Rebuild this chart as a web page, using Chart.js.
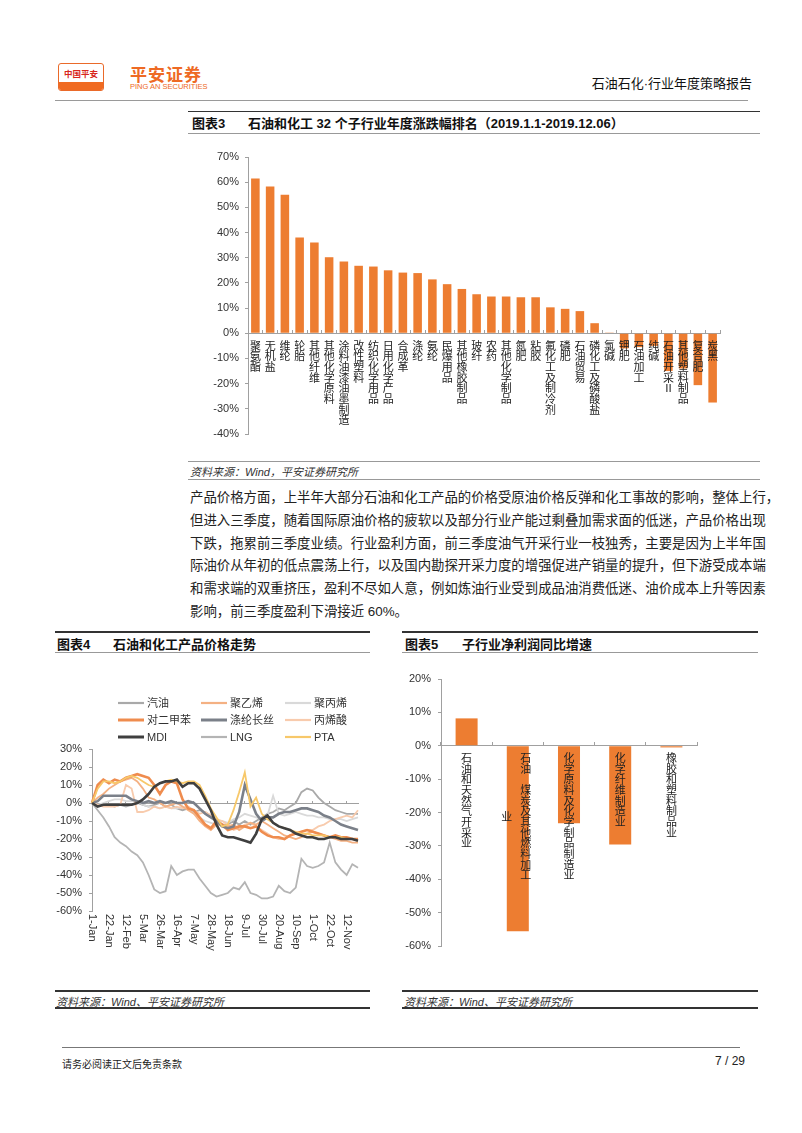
<!DOCTYPE html>
<html>
<head>
<meta charset="utf-8">
<script src="https://cdn.jsdelivr.net/npm/chart.js@4.4.1/dist/chart.umd.min.js"></script>
<style>
body { margin: 0; background: #fff; }
#page { position: relative; width: 802px; height: 1133px; overflow: hidden; font-family: 'Liberation Sans', 'Noto Sans CJK SC', sans-serif; color: #222; }
.abs { position: absolute; }
.hline { position: absolute; height: 0; }
.ttl { position: absolute; font-size: 13px; font-weight: bold; color: #111; white-space: nowrap; }
.src { position: absolute; font-size: 11px; font-style: italic; color: #333; white-space: nowrap; }
.para div { height: 22.8px; line-height: 22.8px; text-align: justify; text-align-last: justify; white-space: nowrap; }
canvas { position: absolute; }
</style>
</head>
<body>
<div id="page">
  <!-- header -->
  <div class="abs" style="left:58px;top:63px;width:44px;height:26px;border:1px solid #ea6a2a;border-radius:3px;overflow:hidden;">
    <div style="position:absolute;left:0;right:0;top:3px;text-align:center;font-size:8.5px;font-weight:bold;color:#d8261c;">中国平安</div>
    <div style="position:absolute;left:0;right:0;bottom:0;height:8px;background:#f06b22;"></div>
  </div>
  <div class="abs" style="left:130px;top:61px;font-size:17px;font-weight:bold;color:#ee6a24;letter-spacing:1px;">平安证券</div>
  <div class="abs" style="left:130px;top:82px;font-size:7.5px;color:#ee6a24;">PING AN SECURITIES</div>
  <div class="abs" style="right:50px;top:73px;font-size:13px;color:#111;">石油石化·行业年度策略报告</div>
  <div class="hline" style="left:55px;width:693px;top:100px;border-top:1.5px solid #9a9a9a;"></div>

  <!-- chart 3 title -->
  <div class="hline" style="left:188px;width:572px;top:111px;border-top:1.5px solid #333;"></div>
  <div class="ttl" style="left:192px;top:113px;">图表3</div>
  <div class="ttl" style="left:248px;top:113px;">石油和化工 32 个子行业年度涨跌幅排名（2019.1.1-2019.12.06）</div>
  <div class="hline" style="left:188px;width:572px;top:133px;border-top:1px solid #999;"></div>
  <canvas id="chart3" width="575" height="310" style="left:188px;top:140px;"></canvas>
  <div class="hline" style="left:188px;width:572px;top:461px;border-top:1px solid #999;"></div>
  <div class="src" style="left:190px;top:463px;">资料来源：Wind，平安证券研究所</div>
  <div class="hline" style="left:188px;width:572px;top:479px;border-top:1px solid #999;"></div>

  <div class="abs para" style="left:190px;top:487px;width:570px;font-size:13.4px;color:#222;">
    <div>产品价格方面，上半年大部分石油和化工产品的价格受原油价格反弹和化工事故的影响，整体上行，</div>
    <div>但进入三季度，随着国际原油价格的疲软以及部分行业产能过剩叠加需求面的低迷，产品价格出现</div>
    <div>下跌，拖累前三季度业绩。行业盈利方面，前三季度油气开采行业一枝独秀，主要是因为上半年国</div>
    <div>际油价从年初的低点震荡上行，以及国内勘探开采力度的增强促进产销量的提升，但下游受成本端</div>
    <div>和需求端的双重挤压，盈利不尽如人意，例如炼油行业受到成品油消费低迷、油价成本上升等因素</div>
    <div style="text-align-last:left;">影响，前三季度盈利下滑接近 60%。</div>
  </div>

  <!-- chart 4 -->
  <div class="hline" style="left:55px;width:315px;top:631px;border-top:2px solid #333;"></div>
  <div class="ttl" style="left:57px;top:634px;">图表4</div>
  <div class="ttl" style="left:113px;top:634px;">石油和化工产品价格走势</div>
  <div class="hline" style="left:55px;width:315px;top:652px;border-top:1px solid #999;"></div>
  <canvas id="chart4" width="315" height="272" style="left:55px;top:690px;"></canvas>
  <div class="hline" style="left:55px;width:315px;top:990px;border-top:2px solid #333;"></div>
  <div class="src" style="left:56px;top:993px;">资料来源：Wind、平安证券研究所</div>
  <div class="hline" style="left:55px;width:315px;top:1007px;border-top:2px solid #333;"></div>

  <!-- chart 5 -->
  <div class="hline" style="left:402px;width:356px;top:631px;border-top:2px solid #333;"></div>
  <div class="ttl" style="left:405px;top:634px;">图表5</div>
  <div class="ttl" style="left:462px;top:634px;">子行业净利润同比增速</div>
  <div class="hline" style="left:402px;width:356px;top:652px;border-top:1px solid #999;"></div>
  <canvas id="chart5" width="360" height="325" style="left:400px;top:660px;"></canvas>
  <div class="hline" style="left:402px;width:356px;top:990px;border-top:2px solid #333;"></div>
  <div class="src" style="left:404px;top:993px;">资料来源：Wind、平安证券研究所</div>
  <div class="hline" style="left:402px;width:356px;top:1007px;border-top:2px solid #333;"></div>

  <!-- footer -->
  <div class="hline" style="left:62px;width:678px;top:1047px;border-top:1px solid #777;"></div>
  <div class="abs" style="left:62px;top:1056px;font-size:10px;color:#222;">请务必阅读正文后免责条款</div>
  <div class="abs" style="right:57px;top:1054px;font-size:12px;color:#222;">7 / 29</div>
</div>

<script>
"use strict";

var FONT = "'Liberation Sans', 'Noto Sans CJK SC', sans-serif";
var AXIS = '#a0a0a0';
var LH = 11 * 0.97;

// chart 3 data
var subNames = ['聚氨酯', '无机盐', '维纶', '轮胎', '其他纤维', '其他化学原料', '涂料油漆油墨制造', '改性塑料',
    '纺织化学用品', '日用化学产品', '合成革', '涤纶', '氨纶', '民爆用品', '其他橡胶制品', '玻纤',
    '农药', '其他化学制品', '氮肥', '粘胶', '氟化工及制冷剂', '磷肥', '石油贸易', '磷化工及磷酸盐',
    '氯碱', '钾肥', '石油加工', '纯碱', '石油开采Ⅱ', '其他塑料制品', '复合肥', '炭黑'];
var subChange = [61.5, 58.3, 55.0, 38.0, 36.0, 30.2, 28.5, 26.8,
    26.5, 25.0, 24.1, 23.9, 21.4, 19.5, 17.6, 15.5,
    14.6, 14.6, 14.3, 14.3, 10.3, 9.7, 8.8, 4.0,
    0.3, -6.0, -5.5, -5.0, -15.0, -14.0, -20.6, -27.5];
var subTicks = [-40, -30, -20, -10, 0, 10, 20, 30, 40, 50, 60, 70];

// chart 4 data
var weekLabels = ['1-Jan', '8-Jan', '15-Jan', '22-Jan', '29-Jan', '5-Feb', '12-Feb', '19-Feb', '26-Feb', '5-Mar',
    '12-Mar', '19-Mar', '26-Mar', '2-Apr', '9-Apr', '16-Apr', '23-Apr', '30-Apr', '7-May', '14-May',
    '21-May', '28-May', '4-Jun', '11-Jun', '18-Jun', '25-Jun', '2-Jul', '9-Jul', '16-Jul', '23-Jul',
    '30-Jul', '6-Aug', '13-Aug', '20-Aug', '27-Aug', '3-Sep', '10-Sep', '17-Sep', '24-Sep', '1-Oct',
    '8-Oct', '15-Oct', '22-Oct', '29-Oct', '5-Nov', '12-Nov', '19-Nov', '26-Nov'];
var gasoline = [0, -1, -1, -1, -2, -1, -2, -1, 0, -1, -2, -1, 0, -2, -1, -3, -4, -3, -5, -4,
    -5, -7, -10, -12, -12, -10, -12, -10, -12, -10, -8, -6, -5, -3, -4, -2, 0, 6, 8, 7,
    3, 0, -2, -4, -5, -6, -6, -6];
var polyethylene = [0, 3, 5, 8, 10, 12, 13, 14, 12, 8, 3, 2, 0, -2, -1, 0, -2, -4, -6, -10,
    -13, -15, -12, -12, -13, -12, -15, -13, -11, -12, -10, -12, -14, -16, -18, -19, -20, -19, -17, -16,
    -17, -18, -19, -20, -21, -21, -22, -22];
var polypropylene = [0, -1, 0, 1, 2, 2, 1, 1, 1, -1, -2, -2, -3, -2, -3, -3, -2, -3, -6, -8,
    -10, -11, -12, -10, -11, -9, -8, -6, -7, -8, -9, -7, 4, -6, -7, -6, -5, -6, -7, -7,
    -8, -8, -9, -9, -9, -10, -9, -8];
var paraxylene = [0, 10, 13, 11, 13, 12, 14, 15, 16, 15, 14, 10, 5, 10, 12, 11, 2, -3, -4, -8,
    -12, -14, -10, -12, -15, -14, -13, -13, -14, -13, -16, -18, -19, -19, -20, -18, -17, -16, -15, -16,
    -17, -18, -19, -18, -19, -19, -20, -20];
var polyester = [0, 1, 4, 4, 4, 4, 4, 2, 1, 0, 1, 0, 1, 0, 1, 0, 0, 1, 0, -3,
    -6, -8, -10, -13, -14, -13, -5, 10, 2, -6, -10, -8, -8, -6, -5, -5, -4, -3, -3, -4,
    -5, -7, -8, -10, -12, -13, -14, -15];
var acrylicAcid = [0, -1, -2, -2, -2, -1, 10, 8, -5, -5, -4, -2, -3, -2, -3, -2, -3, -2, -4, -6,
    -5, -7, -9, -10, -12, -15, -14, -12, -11, -13, -15, -17, -19, -20, -20, -18, -17, -16, -15, -15,
    -13, -12, -10, -9, -8, -7, -8, -4];
var mdi = [0, -2, -1, -1, -1, -1, -1, -1, 0, 2, 5, 9, 11, 12, 12, 13, 9, 11, 11, 8,
    2, -4, -12, -18, -19, -19, -20, -21, -22, -17, -9, -7, -11, -13, -14, -15, -17, -18, -19, -19,
    -20, -20, -19, -19, -20, -20, -20, -21];
var lng = [0, -4, -8, -13, -19, -22, -24, -27, -29, -33, -40, -48, -50, -49, -35, -40, -38, -37, -37, -42,
    -46, -50, -52, -51, -50, -47, -48, -44, -50, -51, -53, -53, -52, -46, -49, -50, -47, -31, -35, -36,
    -35, -33, -22, -33, -37, -40, -34, -36];
var pta = [0, 8, 12, 12, 11, 12, 14, 15, 14, 12, 10, 9, 11, 12, 13, 12, 11, 12, 12, 10,
    4, -3, -8, -13, -12, -4, 6, 17, -2, 3, -6, -9, -11, -13, -14, -15, -16, -17, -17, -18,
    -18, -18, -19, -19, -19, -20, -20, -21];
var priceTicks = [-60, -50, -40, -30, -20, -10, 0, 10, 20, 30];

// chart 5 data
var profitCats = ['石油和天然气开采业', '石油、煤炭及其他燃料加工业', '化学原料及化学制品制造业', '化学纤维制造业', '橡胶和塑料制品业'];
var profitGrowth = [8.2, -55.6, -23.2, -29.6, -0.5];
var profitTicks = [-60, -50, -40, -30, -20, -10, 0, 10, 20];

function pct(v) { return v + '%'; }

function fixedTicks(list) {
    return function(scale) {
        scale.ticks = list.map(function(v) { return { value: v }; });
    };
}

function yAxis(list, width, pad) {
    return {
        min: list[0], max: list[list.length - 1],
        afterBuildTicks: fixedTicks(list),
        afterFit: function(s) { s.width = width; },
        ticks: { callback: pct, color: '#333', padding: pad, font: { family: FONT, size: 11 } },
        grid: { display: true, drawOnChartArea: false, tickLength: 3, color: AXIS },
        border: { color: AXIS }
    };
}

// one character per line; labels over 12 characters are drawn by the plugin below
function chars(label) {
    return label.replace('、', ' ').split('');
}

function catAxis() {
    return {
        position: { y: 0 },
        grid: { display: true, drawOnChartArea: false, offset: true, tickLength: -4, color: AXIS },
        border: { color: AXIS },
        ticks: {
            z: 1, autoSkip: false, maxRotation: 0, minRotation: 0, padding: 12,
            color: '#222',
            font: { family: FONT, size: 11, lineHeight: 0.97 },
            callback: function(v) {
                var c = chars(this.getLabelForValue(v));
                return c.length > 12 ? '' : c;
            }
        }
    };
}

// chart 3
var ctx3 = document.getElementById('chart3').getContext('2d');
var chart3 = new Chart(ctx3, {
    type: 'bar',
    data: {
        labels: subNames,
        datasets: [{
            data: subChange,
            backgroundColor: '#ed7d31',
            categoryPercentage: 1,
            barPercentage: 0.58
        }]
    },
    options: {
        responsive: false,
        animation: false,
        layout: { padding: { top: 17, bottom: 16, right: 43, left: 0 } },
        plugins: { legend: { display: false }, tooltip: { enabled: false } },
        scales: {
            y: yAxis(subTicks, 60, 6),
            x: catAxis()
        }
    }
});

// chart 4
var series = [
    { label: '汽油', data: gasoline, color: '#a9a9a9', width: 1.8, order: 7 },
    { label: '聚乙烯', data: polyethylene, color: '#f4b183', width: 1.8, order: 4 },
    { label: '聚丙烯', data: polypropylene, color: '#d9d9d9', width: 1.8, order: 6 },
    { label: '对二甲苯', data: paraxylene, color: '#ef8c4e', width: 2.6, order: 3 },
    { label: '涤纶长丝', data: polyester, color: '#7b8089', width: 2.6, order: 2 },
    { label: '丙烯酸', data: acrylicAcid, color: '#f8cbad', width: 1.8, order: 5 },
    { label: 'MDI', data: mdi, color: '#3f3f3f', width: 2.6, order: 0 },
    { label: 'LNG', data: lng, color: '#b4b4b4', width: 1.8, order: 8 },
    { label: 'PTA', data: pta, color: '#f7c86a', width: 1.8, order: 1 }
];

var gridLegend = {
    id: 'gridLegend',
    afterDraw: function(chart) {
        var c = chart.ctx;
        var cols = [63, 146, 230];
        var rows = [13, 30, 47];
        c.save();
        c.font = '11px ' + FONT;
        c.textBaseline = 'middle';
        chart.data.datasets.forEach(function(ds, i) {
            var x = cols[i % 3], y = rows[Math.floor(i / 3)];
            c.strokeStyle = ds.borderColor;
            c.lineWidth = ds.borderWidth + 0.4;
            c.beginPath();
            c.moveTo(x, y);
            c.lineTo(x + 26, y);
            c.stroke();
            c.fillStyle = '#333';
            c.fillText(ds.label, x + 29, y + 0.5);
        });
        c.restore();
    }
};

var downLabels = {
    id: 'downLabels',
    afterDraw: function(chart) {
        var xs = chart.scales.x, c = chart.ctx;
        c.save();
        c.font = '11px ' + FONT;
        c.fillStyle = '#333';
        c.textAlign = 'left';
        c.textBaseline = 'middle';
        xs.ticks.forEach(function(t) {
            c.save();
            c.translate(xs.getPixelForValue(t.value), chart.chartArea.bottom + 3);
            c.rotate(Math.PI / 2);
            c.fillText(weekLabels[t.value], 0, 0);
            c.restore();
        });
        c.restore();
    }
};

var ctx4 = document.getElementById('chart4').getContext('2d');
var chart4 = new Chart(ctx4, {
    type: 'line',
    data: {
        labels: weekLabels,
        datasets: series.map(function(s) {
            return {
                label: s.label, data: s.data, borderColor: s.color, borderWidth: s.width,
                order: s.order, pointRadius: 0, fill: false, tension: 0
            };
        })
    },
    options: {
        responsive: false,
        animation: false,
        layout: { padding: { top: 59, bottom: 51, right: 12, left: 0 } },
        plugins: { legend: { display: false }, tooltip: { enabled: false } },
        scales: {
            y: yAxis(priceTicks, 37, 7),
            x: {
                position: { y: 0 },
                afterBuildTicks: function(s) {
                    s.ticks = s.ticks.filter(function(t, i) { return i % 3 === 0; });
                },
                grid: { display: true, drawOnChartArea: false, tickLength: -3, color: AXIS },
                border: { color: AXIS },
                ticks: { display: false, autoSkip: false }
            }
        }
    },
    plugins: [gridLegend, downLabels]
});

// chart 5: long labels wrap into a second column on the left, centred on the first
var wrapCols = {
    id: 'wrapCols',
    afterDraw: function(chart) {
        var xs = chart.scales.x, c = chart.ctx;
        var top = chart.scales.y.getPixelForValue(0) + 8;
        c.save();
        c.font = '11px ' + FONT;
        c.fillStyle = '#222';
        c.textAlign = 'center';
        c.textBaseline = 'middle';
        chart.data.labels.forEach(function(name, i) {
            var all = chars(name);
            if (all.length <= 12) return;
            var x = xs.getPixelForValue(i);
            var main = all.slice(0, 12), rest = all.slice(12);
            main.forEach(function(ch, k) {
                c.fillText(ch, x + 8, top + LH * (k + 0.5));
            });
            var y0 = top + (main.length * LH) / 2 - (rest.length * LH) / 2;
            rest.forEach(function(ch, k) {
                c.fillText(ch, x - 11, y0 + LH * (k + 0.5));
            });
        });
        c.restore();
    }
};

var ctx5 = document.getElementById('chart5').getContext('2d');
var chart5 = new Chart(ctx5, {
    type: 'bar',
    data: {
        labels: profitCats,
        datasets: [{
            data: profitGrowth,
            backgroundColor: '#ed7d31',
            categoryPercentage: 1,
            barPercentage: 0.43
        }]
    },
    options: {
        responsive: false,
        animation: false,
        layout: { padding: { top: 19, bottom: 39, right: 63, left: 0 } },
        plugins: { legend: { display: false }, tooltip: { enabled: false } },
        scales: {
            y: yAxis(profitTicks, 41, 7),
            x: catAxis()
        }
    },
    plugins: [wrapCols]
});
</script>
</body>
</html>
